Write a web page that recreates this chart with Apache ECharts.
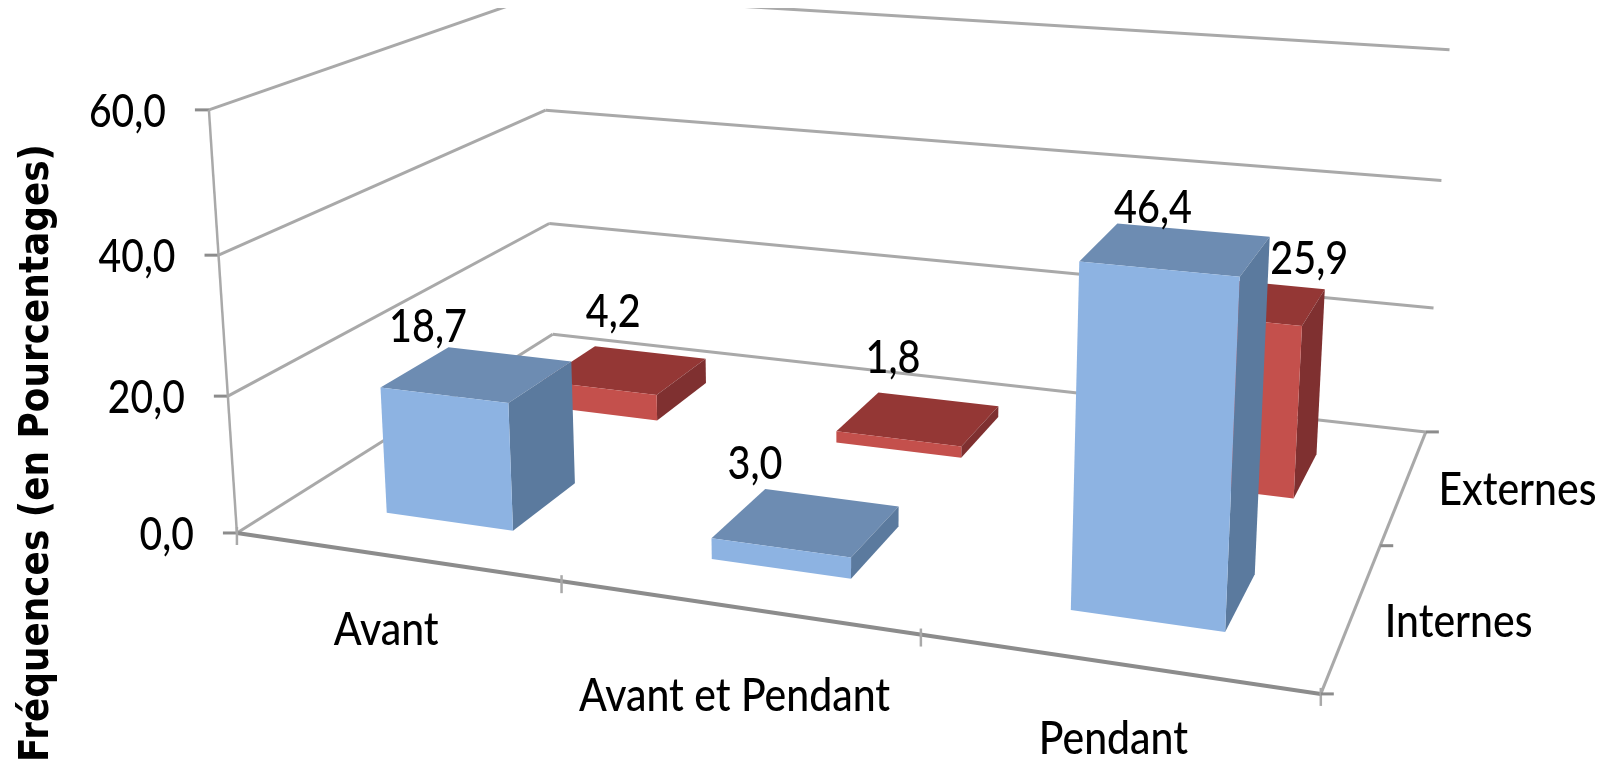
<!DOCTYPE html>
<html>
<head>
<meta charset="utf-8">
<title>Fréquences</title>
<style>
html, body { margin: 0; padding: 0; background: #fff; }
#main { width: 1602px; height: 763px; }
</style>
<script src="https://cdn.jsdelivr.net/npm/echarts@6/dist/echarts.min.js"></script>
</head>
<body>
<div id="main"></div>
<script>
// chart values
const categories = ["Avant", "Avant et Pendant", "Pendant"];
const depthNames = ["Internes", "Externes"];
const internes = [18.7, 3.0, 46.4];
const externes = [4.2, 1.8, 25.9];
const internesLabels = ["18,7", "3,0", "46,4"];
const externesLabels = ["4,2", "1,8", "25,9"];
const valueTicks = [0, 20, 40, 60];
const valueTickLabels = ["0,0", "20,0", "40,0", "60,0"];
const axisTitle = "Fréquences (en Pourcentages)";

// 3d box layout, floor units: x 0..3, z 0..2, value 0..60
const BAR_W = 0.4;
const BAR_D = 0.4;
const BAR_X = 0.515;
const BAR_Z = 0.48;
const TEXT_FONT = "500 46px Lato";
const LINE = "#a9a9a9";
const LINE_DARK = "#8c8c8c";
// pixel offsets of labels from their anchor
const internesNudge = [[-48, -44], [-49, -55], [-19, -38]];
const externesNudge = [[-10, -55], [-23, -58], [68, -39]];
const categoryNudge = [[-9, 74], [-2, 89], [-2, 76]];
const depthNudge = [[106, 8], [113, 5]];

// camera: where known points of the box land on the page
const anchors = [
  [0, 0, 0, 236, 536], [3, 0, 0, 1320, 694], [3, 2, 0, 1425, 431], [0, 2, 0, 554, 333],
  [0, 0, 20, 227, 395], [0, 0, 40, 219, 254], [0, 0, 60, 211, 109],
  [0, 2, 20, 550, 224], [0, 2, 40, 546, 109], [0, 2, 60, 539, -4],
  [3, 2, 20, 1434, 308], [3, 2, 40, 1442, 182], [3, 2, 60, 1450, 49]
];

function solveCamera(pts) {
  const rows = [];
  const rhs = [];
  pts.forEach(function (p) {
    const u = p[0] / 3, v = p[1] / 2, w = p[2] / 60, X = p[3] / 1000, Y = p[4] / 1000;
    rows.push([u, v, w, 1, 0, 0, 0, 0, -X * u, -X * v, -X * w]); rhs.push(X);
    rows.push([0, 0, 0, 0, u, v, w, 1, -Y * u, -Y * v, -Y * w]); rhs.push(Y);
  });
  const n = 11;
  const m = [];
  for (let i = 0; i < n; i++) {
    m[i] = [];
    for (let j = 0; j < n; j++) {
      let s = 0;
      rows.forEach(function (r) { s += r[i] * r[j]; });
      m[i][j] = s;
    }
    let b = 0;
    rows.forEach(function (r, k) { b += r[i] * rhs[k]; });
    m[i][n] = b;
  }
  for (let c = 0; c < n; c++) {
    let best = c;
    for (let r = c + 1; r < n; r++) if (Math.abs(m[r][c]) > Math.abs(m[best][c])) best = r;
    const t = m[c]; m[c] = m[best]; m[best] = t;
    for (let r = 0; r < n; r++) {
      if (r === c) continue;
      const f = m[r][c] / m[c][c];
      for (let k = c; k <= n; k++) m[r][k] -= f * m[c][k];
    }
  }
  return m.map(function (r, i) { return r[n] / r[i]; });
}
const cam = solveCamera(anchors);

// x and value go through the chart's own axes, then through the camera
function pt(api, x, z, value) {
  const c = api.coord([x, value]);
  const u = c[0] / api.getWidth();
  const w = 1 - c[1] / api.getHeight();
  const v = z / 2;
  const d = cam[8] * u + cam[9] * v + cam[10] * w + 1;
  return [
    1000 * (cam[0] * u + cam[1] * v + cam[2] * w + cam[3]) / d,
    1000 * (cam[4] * u + cam[5] * v + cam[6] * w + cam[7]) / d
  ];
}

function line(a, b, color, width) {
  return {
    type: "line",
    shape: { x1: a[0], y1: a[1], x2: b[0], y2: b[1] },
    style: { stroke: color, lineWidth: width }
  };
}

function label(text, x, y, scale, align) {
  return {
    type: "text",
    x: x,
    y: y,
    scaleX: scale,
    style: {
      text: text,
      font: TEXT_FONT,
      fill: "#000",
      align: align || "center",
      verticalAlign: "middle"
    }
  };
}

function face(points, color) {
  return { type: "polygon", shape: { points: points }, style: { fill: color } };
}

function wallItem(params, api) {
  const v = api.value(0);
  const a = pt(api, 0, 0, v);
  const b = pt(api, 0, 2, v);
  const c = pt(api, 3, 2, v);
  const kids = [
    line(a, b, LINE, 3),
    line(b, c, LINE, 3),
    line([a[0] - 14, a[1]], a, LINE_DARK, 3),
    label(valueTickLabels[params.dataIndex], a[0] - 43, a[1] + 2, 0.85, "right")
  ];
  return { type: "group", children: kids };
}

function frameItem(params, api) {
  const kids = [];
  const fl = pt(api, 0, 0, 0);
  const fr = pt(api, 3, 0, 0);
  const br = pt(api, 3, 2, 0);
  kids.push(line(pt(api, 0, 0, 60), fl, LINE, 2.5));
  kids.push(line(fl, fr, LINE_DARK, 4));
  kids.push(line(fr, br, LINE, 3));
  for (let i = 0; i <= categories.length; i++) {
    const p = pt(api, i, 0, 0);
    kids.push(line([p[0], p[1] - 6], [p[0], p[1] + 12], LINE, 2.5));
  }
  for (let j = 0; j <= depthNames.length; j++) {
    const p = pt(api, 3, j, 0);
    kids.push(line(p, [p[0] + 13, p[1]], LINE_DARK, 3));
  }
  categories.forEach(function (name, i) {
    const p = pt(api, i + 0.5, 0, 0);
    kids.push(label(name, p[0] + categoryNudge[i][0], p[1] + categoryNudge[i][1], 0.89));
  });
  depthNames.forEach(function (name, j) {
    const p = pt(api, 3, j + 0.5, 0);
    kids.push(label(name, p[0] + depthNudge[j][0], p[1] + depthNudge[j][1], 0.89));
  });
  return { type: "group", children: kids };
}

function barItem(colors) {
  return function (params, api) {
    const i = api.value(0);
    const j = api.value(1);
    const val = api.value(2);
    const x0 = i + BAR_X - BAR_W / 2, x1 = i + BAR_X + BAR_W / 2;
    const z0 = j + BAR_Z - BAR_D / 2, z1 = j + BAR_Z + BAR_D / 2;
    const top = function (x, z) { return pt(api, x, z, val); };
    const base = function (x, z) { return pt(api, x, z, 0); };
    return {
      type: "group",
      children: [
        face([top(x0, z0), top(x1, z0), top(x1, z1), top(x0, z1)], colors.top),
        face([top(x1, z0), top(x1, z1), base(x1, z1), base(x1, z0)], colors.side),
        face([top(x0, z0), top(x1, z0), base(x1, z0), base(x0, z0)], colors.front)
      ]
    };
  };
}

// labels sit in their own series, above every bar
function labelItem(texts, nudge) {
  return function (params, api) {
    const c = pt(api, api.value(0) + 0.5, api.value(1) + 0.5, api.value(2));
    const n = nudge[params.dataIndex];
    return label(texts[params.dataIndex], c[0] + n[0], c[1] + n[1], 0.86);
  };
}

const blue = { front: "#8db3e2", top: "#6d8cb2", side: "#5b7a9e" };
const red = { front: "#c4504c", top: "#943735", side: "#7f3030" };

const externesData = externes.map(function (v, i) { return [i, 1, v]; });
const internesData = internes.map(function (v, i) { return [i, 0, v]; });

const options = {
  animation: false,
  backgroundColor: "#fff",
  grid: { left: 0, right: 0, top: 0, bottom: 0 },
  xAxis: { type: "value", min: 0, max: 3, show: false },
  yAxis: { type: "value", min: 0, max: 60, interval: 20, show: false },
  graphic: [
    // the picture is cut off just under its top edge
    { type: "rect", z: 100, shape: { x: 0, y: 0, width: 1602, height: 8 }, style: { fill: "#fff" } },
    {
      type: "text",
      z: 101,
      x: 38,
      y: 453,
      rotation: Math.PI / 2,
      scaleX: 0.897,
      style: {
        text: axisTitle,
        font: "bold 40px 'DejaVu Sans'",
        fill: "#000",
        align: "center",
        verticalAlign: "middle"
      }
    }
  ],
  series: [
    { type: "custom", silent: true, data: valueTicks.map(function (v) { return [v]; }), renderItem: wallItem },
    { type: "custom", silent: true, data: [[0]], renderItem: frameItem },
    { type: "custom", name: depthNames[1], silent: true, data: externesData, renderItem: barItem(red) },
    { type: "custom", name: depthNames[0], silent: true, data: internesData, renderItem: barItem(blue) },
    { type: "custom", silent: true, data: externesData, renderItem: labelItem(externesLabels, externesNudge) },
    { type: "custom", silent: true, data: internesData, renderItem: labelItem(internesLabels, internesNudge) }
  ]
};

var myChart = echarts.init(document.getElementById("main"));
myChart.setOption(options);
</script>
</body>
</html>
